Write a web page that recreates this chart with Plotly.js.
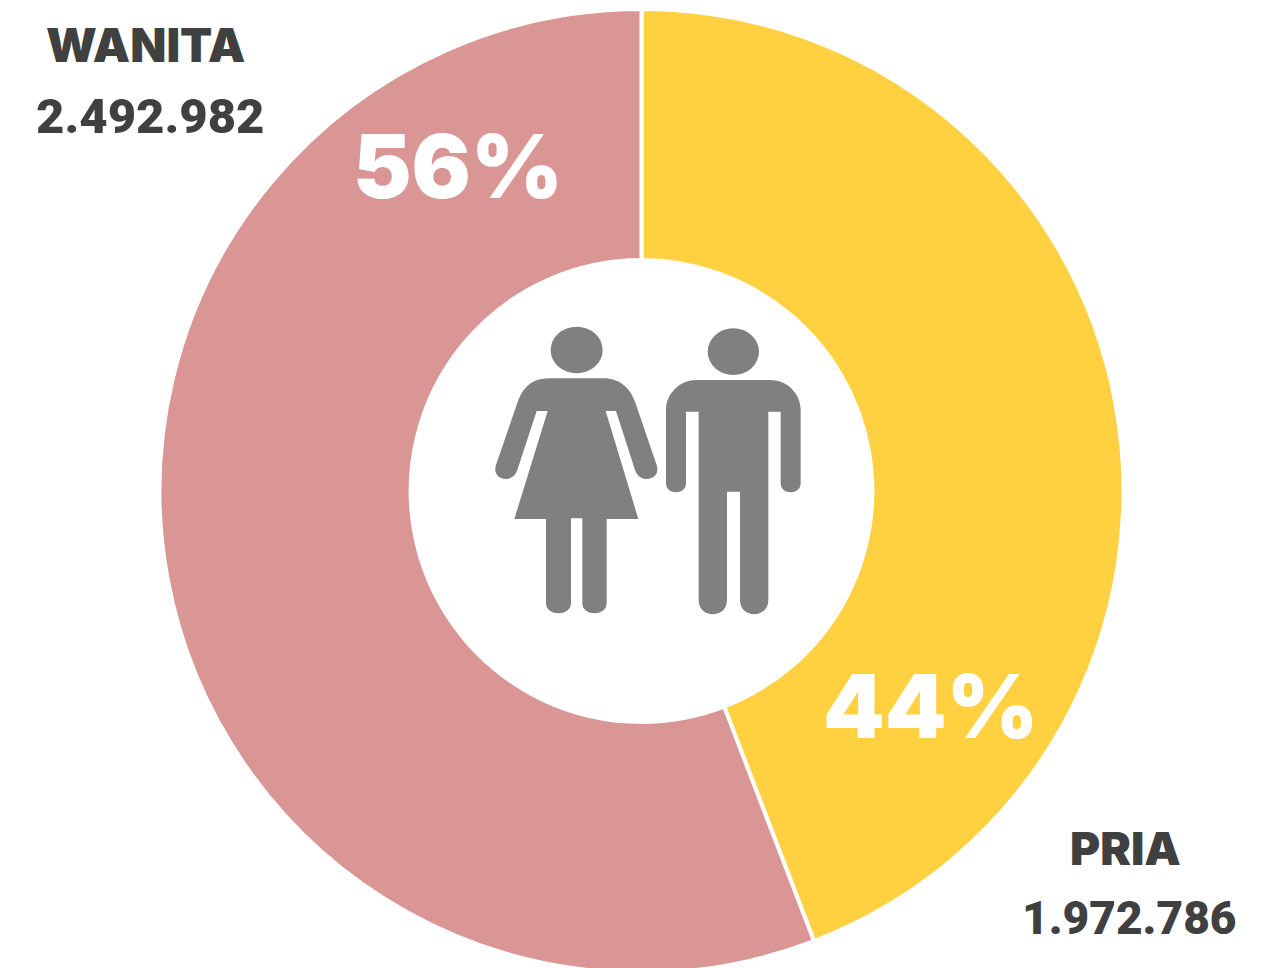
<!DOCTYPE html>
<html>
<head>
<meta charset="utf-8">
<script src="https://cdn.plot.ly/plotly-3.0.1.min.js"></script>
<style>html,body{margin:0;padding:0;background:#fff;overflow:hidden;width:1276px;height:968px}</style>
</head>
<body>
<div id="chart" style="width:1276px;height:974px"></div>
<script>
const categories = ['PRIA', 'WANITA'];
const values = [1972786, 2492982];
const sliceColors = ['#FFD140', '#D99694'];
const valueLabels = ['1.972.786', '2.492.982'];
const percentLabels = ['44%', '56%'];

const W = 1276, H = 974;
const px = x => x / W, py = y => 1 - y / H;
// Icon outlines, written in a local drawing space and mapped to the page
const zx = x => px(480 + x / 3), zy = y => py(310 + y / 3);
function iconPath(cmds) {
  return cmds.map(c => {
    const [op, ...n] = c;
    const out = [];
    for (let i = 0; i < n.length; i += 2) out.push(zx(n[i]).toFixed(5) + ',' + zy(n[i + 1]).toFixed(5));
    return op + out.join(' ');
  }).join(' ') + ' Z';
}
const womanBody = [['M',205,205],['L',370,205],['C',420,205,450,235,465,275],['L',530,465],['C',545,510,480,525,465,480],['L',408,303],['L',377,303],['L',475,627],['L',380,627],['L',380,880],['C',380,920,307,920,307,880],['L',307,625],['L',273,625],['L',273,880],['C',273,920,198,920,198,880],['L',198,627],['L',103,627],['L',203,303],['L',170,303],['L',112,480],['C',97,525,33,510,48,465],['L',115,270],['C',130,230,160,205,205,205]];
const manBody = [['M',650,210],['L',870,210],['C',921,210,962,250,962,300],['L',962,520],['C',962,556,902,556,902,520],['L',902,305],['L',865,305],['L',865,870],['C',865,927,780,927,780,870],['L',780,545],['L',741,545],['L',741,870],['C',741,927,656,927,656,870],['L',656,305],['L',618,305],['L',618,520],['C',618,556,558,556,558,520],['L',558,300],['C',558,250,600,210,650,210]];
const iconColor = '#808080';
const head = (cx, cy, rx, ry) => ({type:'circle', xref:'paper', yref:'paper', x0:zx(cx-rx), x1:zx(cx+rx), y0:zy(cy-ry), y1:zy(cy+ry), fillcolor:iconColor, line:{width:0}});
const body = cmds => ({type:'path', xref:'paper', yref:'paper', path:iconPath(cmds), fillcolor:iconColor, line:{width:0}});

const INTER = 'Inter, "Open Sans", sans-serif';
const ROBOTO = 'Roboto, Inter, sans-serif';
const note = (text, x, y, size, color, family) => ({
  text, x:px(x), y:py(y), xref:'paper', yref:'paper', xanchor:'center', yanchor:'middle', showarrow:false,
  font:{family, size, color, weight:900}
});

const data = [{
  type:'pie', labels:categories, values, hole:0.479, sort:false, direction:'clockwise', rotation:0,
  marker:{colors:sliceColors, line:{color:'#FFFFFF', width:4}},
  textinfo:'none', hoverinfo:'label+value+percent', showlegend:false,
  domain:{x:[(641.5-482)/W,(641.5+482)/W], y:[1/H, 965/H]}
}];
const layout = {
  width:W, height:H, margin:{l:0,r:0,t:0,b:0,pad:0}, paper_bgcolor:'#FFFFFF', showlegend:false,
  shapes:[head(290,120,78,70), body(womanBody), head(760,125,77,70), body(manBody)],
  annotations:[
    note(categories[1], 145, 45, 47, '#404040', INTER),
    note(valueLabels[1], 150, 117, 49, '#404040', ROBOTO),
    note(percentLabels[1], 458, 166, 88, '#FFFFFF', INTER),
    note(percentLabels[0], 931, 706, 88, '#FFFFFF', INTER),
    note(categories[0], 1125, 848, 46, '#404040', INTER),
    note(valueLabels[0], 1129, 918, 46, '#404040', ROBOTO)
  ]
};
Plotly.newPlot('chart', data, layout, {displayModeBar:false, responsive:false});
</script>
</body>
</html>
